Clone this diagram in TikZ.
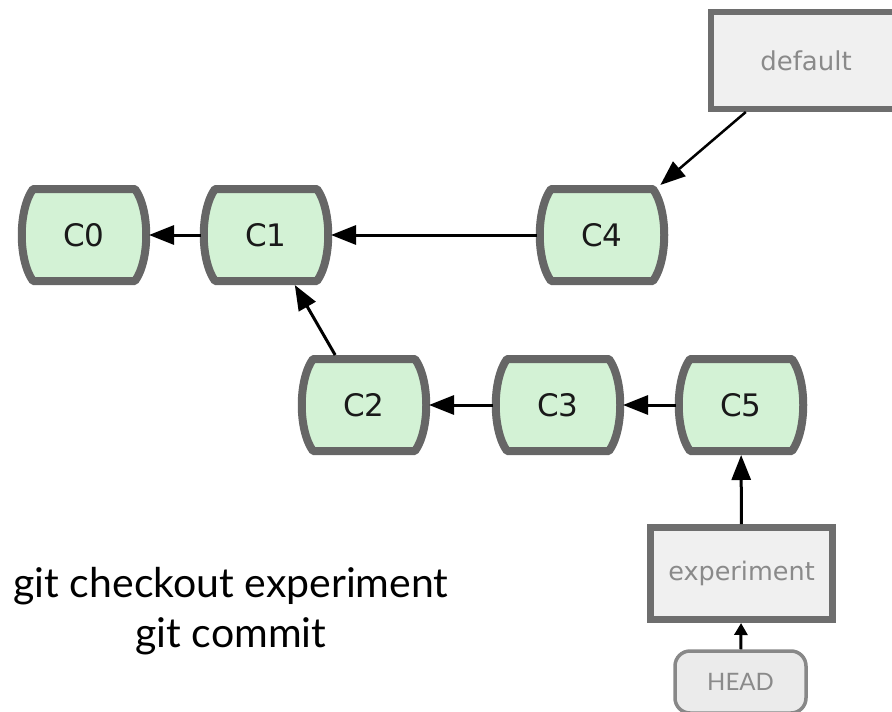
\documentclass[tikz,border=0pt]{standalone}
\usepackage{fontspec}
\setmainfont{DejaVu Sans}
\newfontfamily\gillish{Lato}
\usetikzlibrary{arrows.meta}
\definecolor{commitfill}{HTML}{D3F2D5}
\definecolor{commitline}{HTML}{666666}
\definecolor{reffill}{HTML}{F0F0F0}
\definecolor{refline}{HTML}{6E6E6E}
\definecolor{reftext}{HTML}{8A8A8A}
\definecolor{headline}{HTML}{888888}
\definecolor{headfill}{HTML}{EBEBEB}
\tikzset{
  commitshape/.style={draw=commitline, fill=commitfill, line width=8pt, line join=round},
  commitlabel/.style={rectangle, minimum width=130pt, minimum height=100pt, inner sep=0pt,
    outer sep=0pt, text=black!90, font=\fontsize{31}{36}\selectfont},
  branchbox/.style={rectangle, draw=refline, fill=reffill, line width=7pt, inner sep=0pt,
    text=reftext},
  headbox/.style={rectangle, rounded corners=15pt, draw=headline, fill=headfill, line width=3.5pt,
    minimum width=131pt, minimum height=62pt, inner sep=0pt, text=reftext,
    font=\gillish\fontsize{24}{29}\selectfont},
  link/.style={line width=3pt, -{Triangle[length=25pt,width=19pt]}},
  thinlink/.style={line width=2.5pt, -{Triangle[length=25pt,width=19pt]}},
  smalllink/.style={line width=3pt, -{Triangle[length=12pt,width=13pt]}},
  caption/.style={font=\gillish\fontsize{41}{48}\selectfont, text=black, anchor=base, inner sep=0pt}
}
\newcommand\commitat[3]{%
  \path[commitshape, shift={(#2)}] (-51,-46) -- (51,-46)
    .. controls (66,-25) and (66,25) .. (51,46) -- (-51,46)
    .. controls (-66,25) and (-66,-25) .. cycle;
  \node[commitlabel] (#1) at (#2) {#3};}
\begin{document}
\begin{tikzpicture}[x=1pt,y=-1pt]
\useasboundingbox (0,0) rectangle (892,712);
\commitat{C0}{84,235}{C0}
\commitat{C1}{266,235}{C1}
\commitat{C4}{602,235}{C4}
\commitat{C2}{364,405}{C2}
\commitat{C3}{558,405}{C3}
\commitat{C5}{741,405}{C5}
\node[branchbox, line width=6pt, minimum width=190pt, minimum height=97pt,
  font=\fontsize{26}{31}\selectfont] (def) at (806,60.5) {default};
\node[branchbox, minimum width=182pt, minimum height=92pt,
  font=\fontsize{25.5}{30}\selectfont] (exp) at (741.5,573.5) {experiment};
\node[headbox] (head) at (740.5,682) {HEAD};
\draw[link] (C1) -- (C0);
\draw[link] (C4) -- (C1);
\draw[link] (C2) -- (C1);
\draw[link] (C3) -- (C2);
\draw[link] (C5) -- (C3);
\draw[thinlink] (def) -- (C4);
\draw[link] (exp) -- (C5);
\draw[smalllink] (head) -- (exp);
\node[caption] (cmd1) at (231,597) {git checkout experiment};
\node[caption] (cmd2) at (231,647) {git commit};
\end{tikzpicture}
\end{document}
